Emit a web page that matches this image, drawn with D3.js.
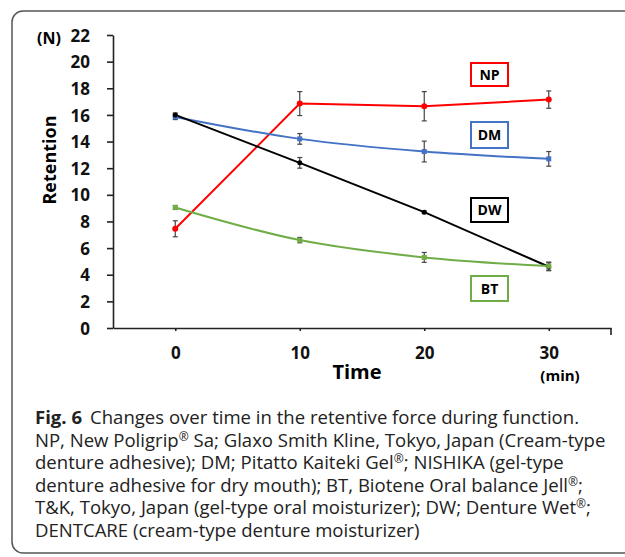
<!DOCTYPE html>
<html>
<head>
<meta charset="utf-8">
<script src="https://cdnjs.cloudflare.com/ajax/libs/d3/7.8.5/d3.min.js"></script>
<style>
  body { margin: 0; background: #fff; }
  .tick text { font-family: "Open Sans", sans-serif; font-weight: bold; font-size: 17px; fill: #111; }
  .axis path, .axis line { stroke: #222; stroke-width: 1.6; }
</style>
</head>
<body>
<script>
// time points (min)
var times = [0, 10, 20, 30];
var yTicks = [0, 2, 4, 6, 8, 10, 12, 14, 16, 18, 20, 22];

// retention (N), means and error bars
var npVals = [7.45, 16.85, 16.65, 17.15];
var npErr  = [0.6, 0.9, 1.1, 0.65];
var dmVals = [15.85, 14.2, 13.25, 12.7];
var dmErr  = [0.2, 0.4, 0.78, 0.55];
var dwVals = [16.0, 12.4, 8.7, 4.6];
var dwErr  = [0.15, 0.4, 0.1, 0.3];
var btVals = [9.05, 6.6, 5.3, 4.65];
var btErr  = [0.15, 0.2, 0.37, 0.3];

var seriesNames = ["NP", "DM", "DW", "BT"];
var seriesColors = ["#ff0000", "#4472c4", "#000000", "#70ad47"];

var caption = [
  [{t: "Fig. 6", b: true}, {t: "Changes over time in the retentive force during function.", gap: true}],
  [{t: "NP, New Poligrip"}, {t: "®", sup: true}, {t: " Sa; Glaxo Smith Kline, Tokyo, Japan (Cream-type"}],
  [{t: "denture adhesive); DM; Pitatto Kaiteki Gel"}, {t: "®", sup: true}, {t: "; NISHIKA (gel-type"}],
  [{t: "denture adhesive for dry mouth); BT, Biotene Oral balance Jell"}, {t: "®", sup: true}, {t: ";"}],
  [{t: "T&K, Tokyo, Japan (gel-type oral moisturizer); DW; Denture Wet"}, {t: "®", sup: true}, {t: ";"}],
  [{t: "DENTCARE (cream-type denture moisturizer)"}]
];

var W = 625, H = 557;
var svg = d3.select("body").append("svg")
  .attr("width", W)
  .attr("height", H);

// outer frame, open on the right
svg.append("rect")
  .attr("x", 12).attr("y", 11)
  .attr("width", 640).attr("height", 542)
  .attr("rx", 11).attr("ry", 11)
  .attr("fill", "none")
  .attr("stroke", "#555")
  .attr("stroke-width", 1.5);

var x = d3.scaleLinear().domain([-5, 35]).range([113, 611]);
var y = d3.scaleLinear().domain([0, 22]).range([328, 35]);

// y axis
svg.append("g")
  .attr("class", "axis")
  .attr("transform", "translate(" + x(-5) + ",0)")
  .call(d3.axisLeft(y).tickValues(yTicks).tickSize(6).tickPadding(17).tickSizeOuter(0))
  .call(function (g) { g.selectAll("text").attr("dy", "0.36em"); });

// x axis
var xg = svg.append("g")
  .attr("class", "axis")
  .attr("transform", "translate(0," + y(0) + ")")
  .call(d3.axisBottom(x).tickValues(times).tickSize(3).tickPadding(16).tickSizeOuter(0));
xg.append("line")
  .attr("x1", x(35)).attr("x2", x(35))
  .attr("y1", 0).attr("y2", 7)
  .attr("stroke", "#222").attr("stroke-width", 1.6);

// axis titles
svg.append("text")
  .attr("x", 49).attr("y", 44)
  .attr("text-anchor", "middle")
  .style("font-family", "Open Sans, sans-serif")
  .style("font-weight", "bold").style("font-size", "16px")
  .text("(N)");

svg.append("text")
  .attr("transform", "translate(56,160) rotate(-90)")
  .attr("text-anchor", "middle")
  .style("font-family", "Open Sans, sans-serif")
  .style("font-weight", "bold").style("font-size", "18px")
  .text("Retention");

svg.append("text")
  .attr("x", 357).attr("y", 379)
  .attr("text-anchor", "middle")
  .style("font-family", "Open Sans, sans-serif")
  .style("font-weight", "bold").style("font-size", "20px")
  .text("Time");

svg.append("text")
  .attr("x", 560).attr("y", 381)
  .attr("text-anchor", "middle")
  .style("font-family", "Open Sans, sans-serif")
  .style("font-weight", "bold").style("font-size", "15px")
  .text("(min)");

var allVals = [npVals, dmVals, dwVals, btVals];
var allErr = [npErr, dmErr, dwErr, btErr];
var curves = [d3.curveLinear, d3.curveCatmullRom.alpha(0.5), d3.curveLinear, d3.curveCatmullRom.alpha(0.5)];

// lines
allVals.forEach(function (vals, i) {
  var pts = times.map(function (t, j) { return [t, vals[j]]; });
  var line = d3.line()
    .x(function (d) { return x(d[0]); })
    .y(function (d) { return y(d[1]); })
    .curve(curves[i]);
  svg.append("path")
    .datum(pts)
    .attr("d", line)
    .attr("fill", "none")
    .attr("stroke", seriesColors[i])
    .attr("stroke-width", 2);
});

// error bars
allVals.forEach(function (vals, i) {
  var g = svg.append("g").attr("stroke", "#444").attr("stroke-width", 1.2);
  times.forEach(function (t, j) {
    var lo = y(vals[j] - allErr[i][j]), hi = y(vals[j] + allErr[i][j]), cx = x(t);
    g.append("line").attr("x1", cx).attr("x2", cx).attr("y1", lo).attr("y2", hi);
    g.append("line").attr("x1", cx - 2.5).attr("x2", cx + 2.5).attr("y1", lo).attr("y2", lo);
    g.append("line").attr("x1", cx - 2.5).attr("x2", cx + 2.5).attr("y1", hi).attr("y2", hi);
  });
});

// markers
allVals.forEach(function (vals, i) {
  var g = svg.append("g").attr("fill", seriesColors[i]);
  times.forEach(function (t, j) {
    if (i === 3 || i === 1) {
      g.append("rect")
        .attr("x", x(t) - 2.5).attr("y", y(vals[j]) - 2.5)
        .attr("width", 5).attr("height", 5);
    } else {
      g.append("circle")
        .attr("cx", x(t)).attr("cy", y(vals[j]))
        .attr("r", i === 0 ? 3 : 2.5);
    }
  });
});

// series label boxes
var boxY = [63, 122, 198, 276];
var boxH = [23, 26, 24, 25];
seriesNames.forEach(function (name, i) {
  var bx = 471, bw = 37;
  svg.append("rect")
    .attr("x", bx).attr("y", boxY[i])
    .attr("width", bw).attr("height", boxH[i])
    .attr("fill", "#fff")
    .attr("stroke", seriesColors[i])
    .attr("stroke-width", 2);
  svg.append("text")
    .attr("x", bx + bw / 2).attr("y", boxY[i] + boxH[i] / 2 + 5)
    .attr("text-anchor", "middle")
    .style("font-family", "Open Sans, sans-serif")
    .style("font-weight", "bold").style("font-size", "14px")
    .text(name);
});

// caption: one text per line, sized so the second line spans the reference width
var capLines = caption.map(function (parts, k) {
  var t = svg.append("text")
    .attr("x", 35).attr("y", 424 + k * 22.6)
    .attr("fill", "#222")
    .style("font-family", "Open Sans, sans-serif")
    .style("font-size", "16px");
  var afterSup = false;
  parts.forEach(function (p) {
    var ts = t.append("tspan").text(p.t);
    if (p.b) ts.style("font-weight", "bold");
    if (p.gap) ts.attr("dx", 8);
    if (p.sup) { ts.attr("dy", -6).attr("class", "sup"); afterSup = true; }
    else if (afterSup) { ts.attr("dy", 6); afterSup = false; }
  });
  return t;
});
var w2 = capLines[1].node().getComputedTextLength();
var fs = 16 * 576 / w2;
capLines.forEach(function (t) { t.style("font-size", fs + "px"); });
svg.selectAll("tspan.sup").style("font-size", (fs * 0.65) + "px");
</script>
</body>
</html>
